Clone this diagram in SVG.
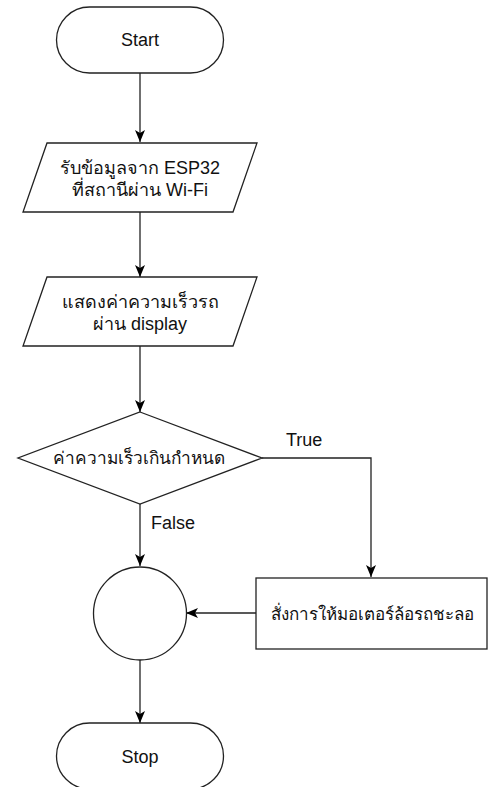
<svg xmlns="http://www.w3.org/2000/svg" width="491" height="787" viewBox="0 0 491 787">
<style>
.shape{fill:#fff;stroke:#222;stroke-width:1.3}
.edge{fill:none;stroke:#222;stroke-width:1.3}
.t{font-family:"Liberation Sans","DejaVu Sans",sans-serif;font-size:18px;fill:#111;text-anchor:middle}
.lbl{font-family:"Liberation Sans","DejaVu Sans",sans-serif;font-size:18px;fill:#111}
</style>
<defs>
<marker id="arr" markerUnits="userSpaceOnUse" viewBox="0 0 12 10" refX="12" refY="5" markerWidth="12" markerHeight="10" orient="auto">
<path d="M0,0 L12,5 L0,10 L3,5 Z" fill="#000"/>
</marker>
</defs>
<g id="connectors">
<line class="edge" x1="140" y1="73" x2="140" y2="142" marker-end="url(#arr)"/>
<line class="edge" x1="140" y1="212" x2="140" y2="277" marker-end="url(#arr)"/>
<line class="edge" x1="140" y1="346" x2="140" y2="412" marker-end="url(#arr)"/>
<polyline class="edge" points="262,458 371,458 371,577" marker-end="url(#arr)"/>
<line class="edge" x1="140" y1="504" x2="140" y2="566" marker-end="url(#arr)"/>
<line class="edge" x1="256" y1="613" x2="186" y2="613" marker-end="url(#arr)"/>
<line class="edge" x1="140" y1="660" x2="140" y2="723" marker-end="url(#arr)"/>
<text class="lbl" x="286" y="446">True</text>
<text class="lbl" x="151" y="529">False</text>
</g>
<g id="start">
<rect class="shape" x="56.5" y="7" width="167" height="66" rx="33" ry="33"/>
<text class="t" x="140" y="46">Start</text>
</g>
<g id="receive">
<polygon class="shape" points="47,143 257,143 233,212 23,212"/>
<text class="t" x="140" y="174">รับข้อมูลจาก ESP32</text>
<text class="t" x="140" y="196">ที่สถานีผ่าน Wi-Fi</text>
</g>
<g id="display">
<polygon class="shape" points="47,277 257,277 233,346 23,346"/>
<text class="t" x="140" y="308">แสดงค่าความเร็วรถ</text>
<text class="t" x="140" y="330">ผ่าน display</text>
</g>
<g id="decision">
<polygon class="shape" points="140,412 262,458 140,504 18,458"/>
<text class="t" x="139" y="464" style="font-size:17.3px">ค่าความเร็วเกินกำหนด</text>
</g>
<g id="slowdown">
<rect class="shape" x="256" y="578" width="231" height="71"/>
<text class="t" x="372" y="620" style="font-size:17px">สั่งการให้มอเตอร์ล้อรถชะลอ</text>
</g>
<g id="merge">
<circle class="shape" cx="140" cy="613.5" r="46.5"/>
</g>
<g id="stop">
<rect class="shape" x="56.5" y="723" width="167" height="66" rx="33" ry="33"/>
<text class="t" x="140" y="763">Stop</text>
</g>
</svg>
